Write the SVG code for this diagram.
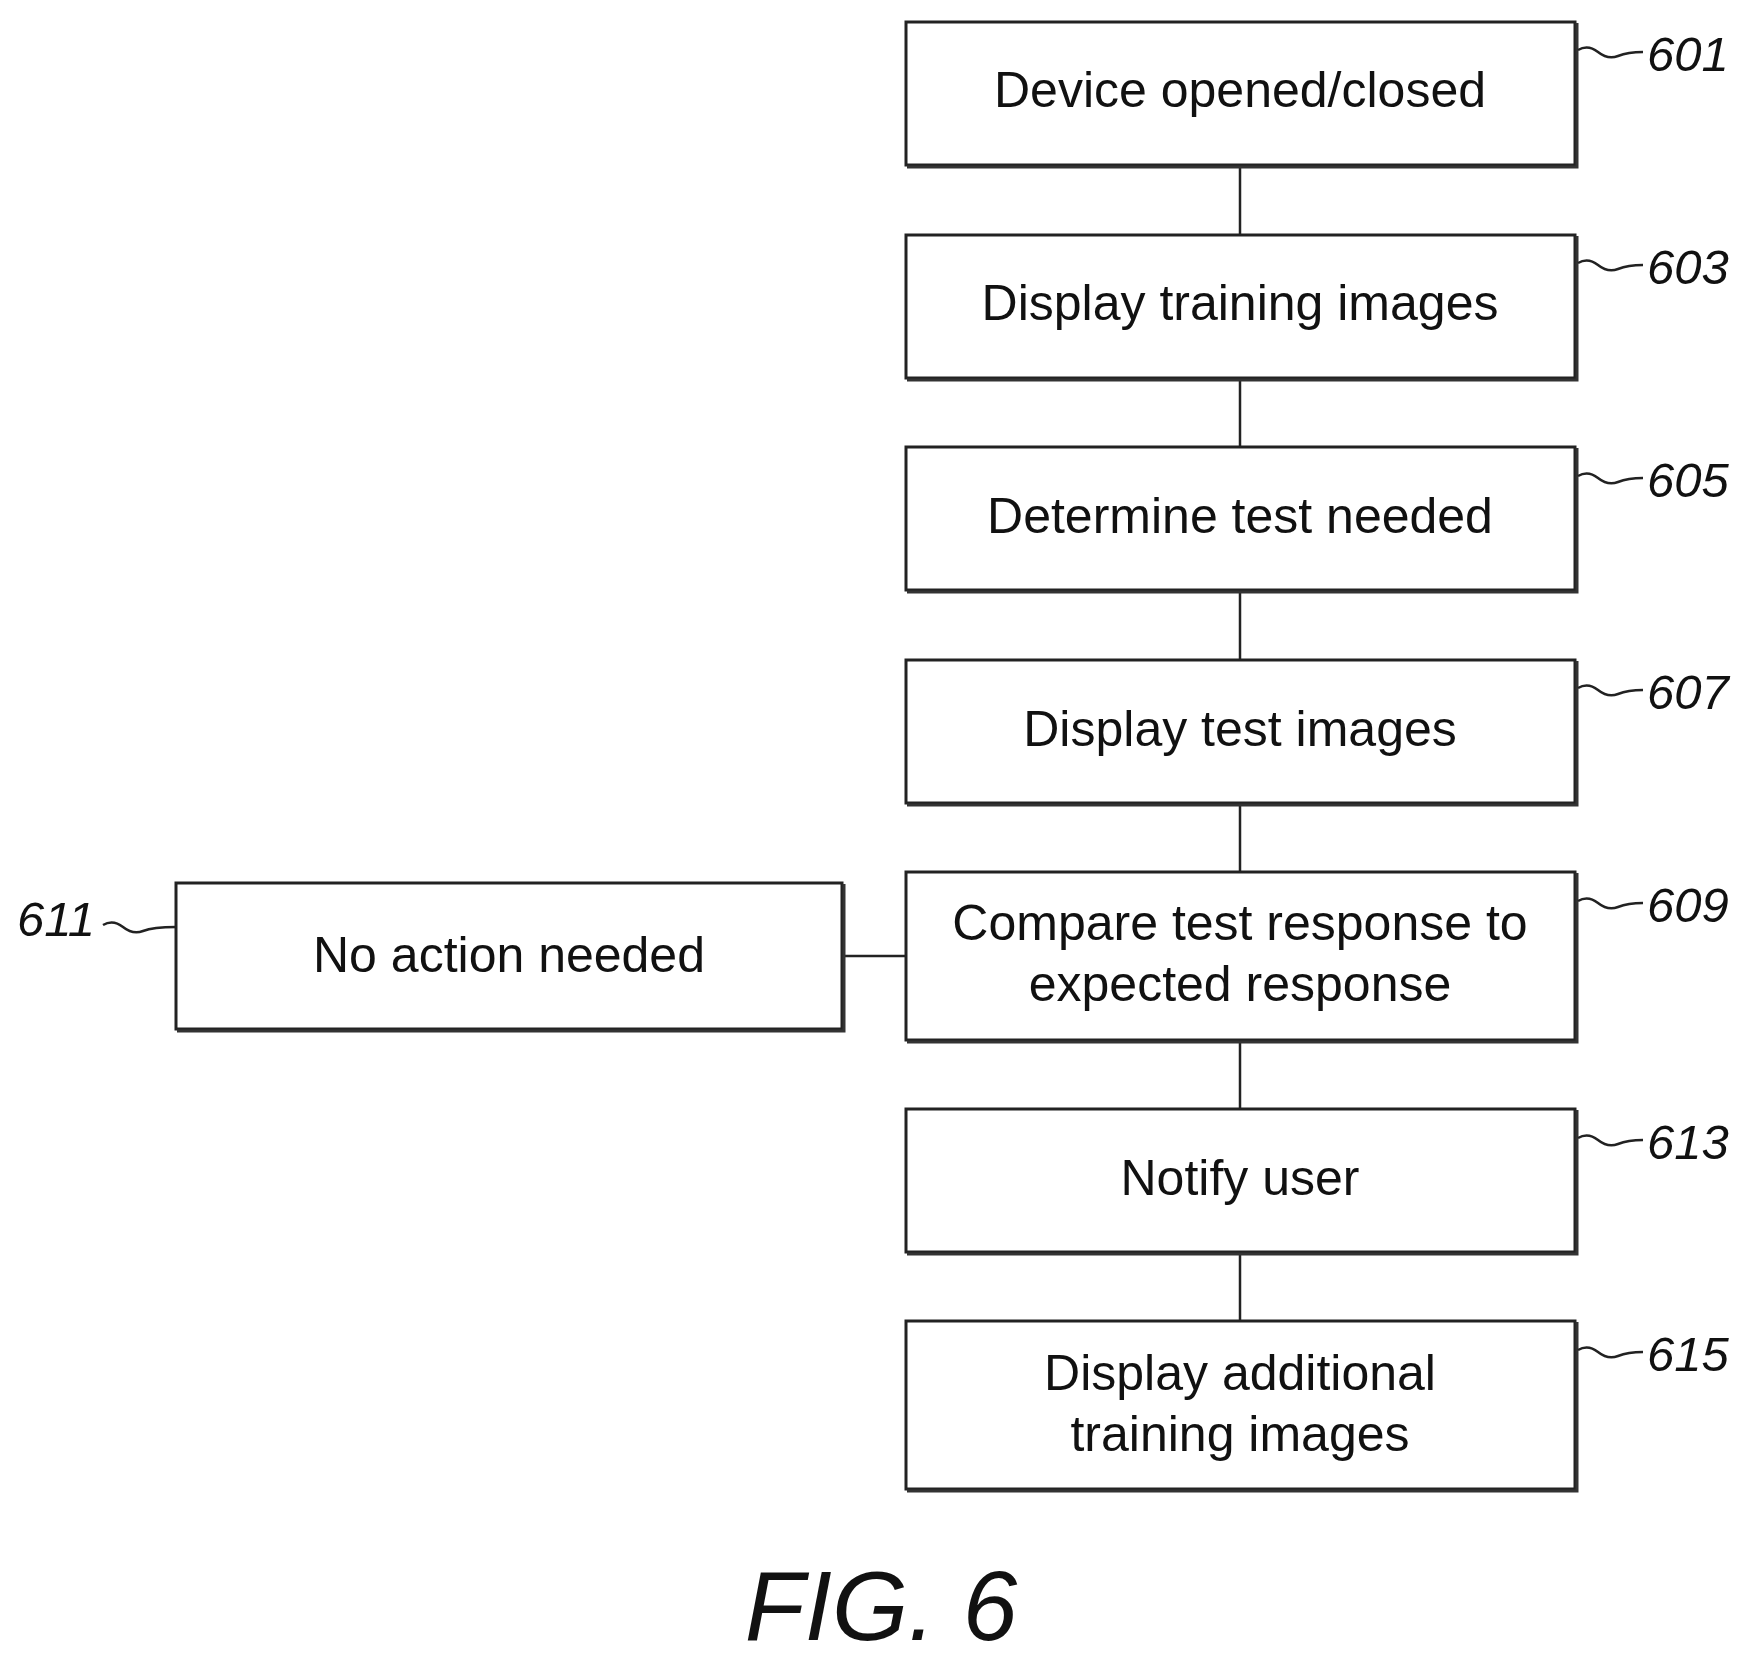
<svg xmlns="http://www.w3.org/2000/svg" width="1751" height="1666" viewBox="0 0 1751 1666">
<style>
.b{fill:#fff;stroke:#222;stroke-width:3}
.s{fill:none;stroke:#333;stroke-width:3}
.t{font-family:"Liberation Sans",Arial,sans-serif;font-size:50px;text-anchor:middle;fill:#111}
.r{font-family:"Liberation Sans",Arial,sans-serif;font-size:49px;font-style:italic;fill:#111}
.c{fill:none;stroke:#222;stroke-width:2.5}
.w{fill:none;stroke:#222;stroke-width:2.5}
</style>
<rect width="1751" height="1666" fill="#fff"/>
<g id="connectors">
<line class="c" x1="1240" y1="165" x2="1240" y2="235"/>
<line class="c" x1="1240" y1="378" x2="1240" y2="447"/>
<line class="c" x1="1240" y1="590" x2="1240" y2="660"/>
<line class="c" x1="1240" y1="803" x2="1240" y2="872"/>
<line class="c" x1="1240" y1="1040" x2="1240" y2="1109"/>
<line class="c" x1="1240" y1="1252" x2="1240" y2="1321"/>
<line class="c" x1="842" y1="956" x2="906" y2="956"/>
</g>
<g transform="translate(-5,0)">
<g id="n601"><rect class="b" x="911" y="22" width="669" height="143"/><path class="s" d="M912 167H1582V23"/><text class="t" x="1245" y="107">Device opened/closed</text><path class="w" d="M1583 50q10-6 20 2t20 4t25-4"/><text class="r" x="1652" y="71">601</text></g>
<g id="n603"><rect class="b" x="911" y="235" width="669" height="143"/><path class="s" d="M912 380H1582V236"/><text class="t" x="1245" y="320">Display training images</text><path class="w" d="M1583 263q10-6 20 2t20 4t25-4"/><text class="r" x="1652" y="284">603</text></g>
<g id="n605"><rect class="b" x="911" y="447" width="669" height="143"/><path class="s" d="M912 592H1582V448"/><text class="t" x="1245" y="533">Determine test needed</text><path class="w" d="M1583 476q10-6 20 2t20 4t25-4"/><text class="r" x="1652" y="497">605</text></g>
<g id="n607"><rect class="b" x="911" y="660" width="669" height="143"/><path class="s" d="M912 805H1582V661"/><text class="t" x="1245" y="746">Display test images</text><path class="w" d="M1583 688q10-6 20 2t20 4t25-4"/><text class="r" x="1652" y="709">607</text></g>
<g id="n609"><rect class="b" x="911" y="872" width="669" height="168"/><path class="s" d="M912 1042H1582V873"/><text class="t" x="1245" y="940">Compare test response to</text><text class="t" x="1245" y="1001">expected response</text><path class="w" d="M1583 901q10-6 20 2t20 4t25-4"/><text class="r" x="1652" y="922">609</text></g>
<g id="n613"><rect class="b" x="911" y="1109" width="669" height="143"/><path class="s" d="M912 1254H1582V1110"/><text class="t" x="1245" y="1195">Notify user</text><path class="w" d="M1583 1138q10-6 20 2t20 4t25-4"/><text class="r" x="1652" y="1159">613</text></g>
<g id="n615"><rect class="b" x="911" y="1321" width="669" height="168"/><path class="s" d="M912 1491H1582V1322"/><text class="t" x="1245" y="1390">Display additional</text><text class="t" x="1245" y="1451">training images</text><path class="w" d="M1583 1350q10-6 20 2t20 4t25-4"/><text class="r" x="1652" y="1371">615</text></g>
</g>
<g id="n611"><rect class="b" x="176" y="883" width="666" height="146"/><path class="s" d="M177 1031H844V884"/><text class="t" x="509" y="972">No action needed</text><path class="w" d="M103 925q10-6 20 2t20 4t33-4"/><text class="r" x="17" y="936">611</text></g>
<text x="881" y="1640" font-family="Liberation Sans,Arial,sans-serif" font-size="98" font-style="italic" text-anchor="middle" fill="#111">FIG. 6</text>
</svg>
